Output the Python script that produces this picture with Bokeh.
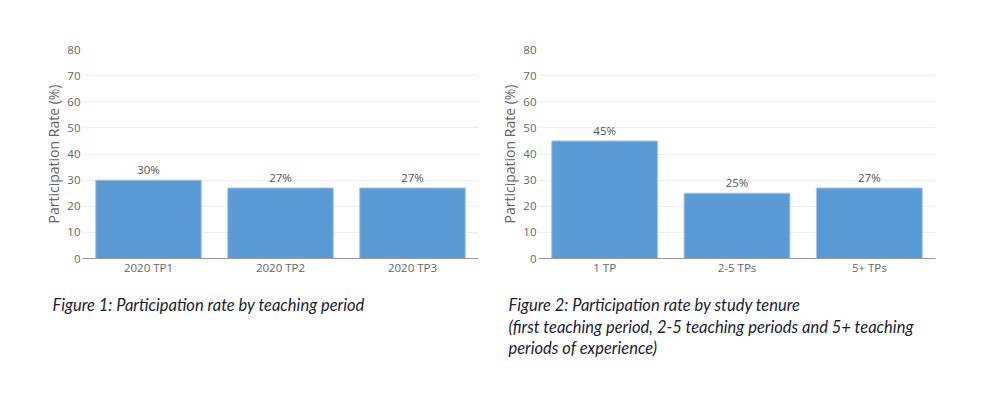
from bokeh.plotting import figure
from bokeh.models import ColumnDataSource, Range1d, FixedTicker, Title
from bokeh.layouts import row
from bokeh.embed import file_html
from bokeh.resources import INLINE
from bokeh.core.properties import value

# Data
periods = ["2020 TP1", "2020 TP2", "2020 TP3"]
period_rates = [30, 27, 27]
tenures = ["1 TP", "2-5 TPs", "5+ TPs"]
tenure_rates = [45, 25, 27]
y_ticks = [0, 10, 20, 30, 40, 50, 60, 70, 80]
caption1 = ["Figure 1: Participation rate by teaching period"]
caption2 = ["Figure 2: Participation rate by study tenure",
            "(first teaching period, 2-5 teaching periods and 5+ teaching",
            "periods of experience)"]

BAR = "#5b9bd5"
FONT = "Open Sans"


def make(cats, vals, width, left, right, captions):
    p = figure(x_range=cats, y_range=Range1d(0, 80), width=width, height=390,
               output_backend="svg", toolbar_location=None,
               min_border_left=left, min_border_right=right,
               min_border_top=49, min_border_bottom=132)
    src = ColumnDataSource(dict(x=cats, top=vals,
                                lab=[f"{v}%" for v in vals]))
    p.vbar(x="x", top="top", width=0.8, source=src, fill_color=BAR,
           line_color="#a9c8e8", line_width=1)
    p.text(x="x", y="top", text="lab", source=src, text_align="center",
           text_baseline="bottom", y_offset=-3, text_font=value(FONT),
           text_font_size="11.5px", text_color="#555555")
    p.outline_line_color = None
    p.xgrid.grid_line_color = None
    p.ygrid.grid_line_color = "#eeeeee"
    p.yaxis.ticker = FixedTicker(ticks=y_ticks)
    p.yaxis.axis_line_color = None
    p.yaxis.major_tick_line_color = None
    p.yaxis.minor_tick_line_color = None
    p.yaxis.major_tick_out = 0
    p.yaxis.major_tick_in = 0
    p.yaxis.minor_tick_out = 0
    p.yaxis.major_label_standoff = 2
    p.yaxis.axis_label = "Participation Rate (%)"
    p.yaxis.axis_label_text_font = FONT
    p.yaxis.axis_label_text_font_style = "normal"
    p.yaxis.axis_label_text_font_size = "14px"
    p.yaxis.axis_label_text_color = "#666666"
    p.yaxis.axis_label_standoff = 1
    for ax in (p.xaxis, p.yaxis):
        ax.major_label_text_font = FONT
        ax.major_label_text_font_size = "11.5px"
        ax.major_label_text_color = "#666666"
    p.xaxis.axis_line_color = "#999999"
    p.xaxis.major_tick_line_color = None
    p.xaxis.minor_tick_line_color = None
    p.xaxis.major_tick_out = 0
    p.xaxis.major_tick_in = 0
    p.xaxis.minor_tick_out = 0
    p.xaxis.major_label_standoff = 1
    # spacer between the axis and the caption lines
    p.add_layout(Title(text=" ", text_font_size="1px", standoff=12), "below")
    for i, c in enumerate(captions):
        p.add_layout(Title(text=c, align="left", offset=-30,
                           standoff=0 if i < 2 else -1,
                           text_font="Lato", text_font_style="italic",
                           text_font_size="16.5px", text_color="#1b2236"),
                     "below")
    return p


p1 = make(periods, period_rates, 490, 82, 12, captions=caption1)
p2 = make(tenures, tenure_rates, 500, 48, 55, captions=caption2)
layout = row(p1, p2)
open("out.html", "w").write(file_html(layout, INLINE))
